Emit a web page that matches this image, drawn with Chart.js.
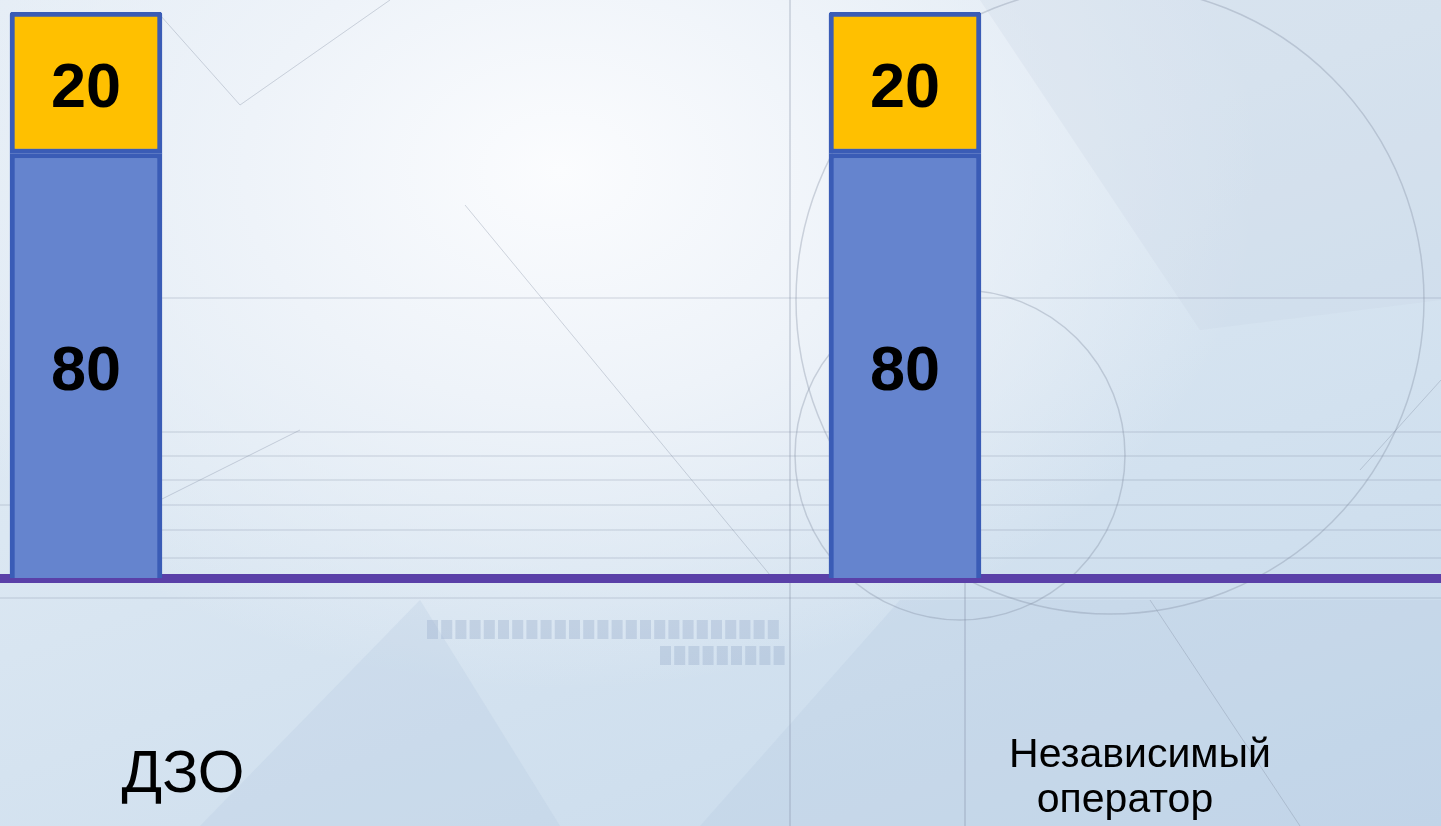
<!DOCTYPE html>
<html>
<head>
<meta charset="utf-8">
<title>ДЗО / Независимый оператор</title>
<script src="https://cdn.jsdelivr.net/npm/chart.js@4.4.1/dist/chart.umd.min.js"></script>
<style>
    html, body {
        margin: 0;
        padding: 0;
        width: 1441px;
        height: 826px;
        overflow: hidden;
    }
    body {
        background:
            radial-gradient(ellipse 700px 520px at 560px 170px, #fbfcfe 0%, #eef3f9 45%, rgba(224,234,244,0) 100%),
            linear-gradient(160deg, #e3ecf5 0%, #dbe7f2 40%, #cfdfee 75%, #c6d9eb 100%);
    }
    #wrap {
        position: absolute;
        left: 0;
        top: 0;
        width: 1441px;
        height: 826px;
    }
</style>
</head>
<body>
<div id="wrap"><canvas id="barChart"></canvas></div>
<script>
/* ===============================
   DATA
=============================== */

const categories = ["ДЗО", "Независимый оператор"];

const categoryIndex = [0, 1];

const bottomValues = [80, 80];

const topValues = [20, 20];

const yTicks = [20, 100];

/* ===============================
   BACKGROUND DRAWING (decoration)
=============================== */

const backgroundPlugin = {
    id: "paperBackground",
    beforeDraw(chart) {
        const ctx = chart.ctx;
        ctx.save();

        // pale shapes
        ctx.fillStyle = "rgba(180,200,225,0.25)";
        ctx.beginPath();
        ctx.moveTo(200, 826); ctx.lineTo(420, 600); ctx.lineTo(560, 826);
        ctx.closePath(); ctx.fill();
        ctx.beginPath();
        ctx.moveTo(700, 826); ctx.lineTo(900, 600); ctx.lineTo(1441, 600); ctx.lineTo(1441, 826);
        ctx.closePath(); ctx.fill();
        ctx.fillStyle = "rgba(200,212,228,0.25)";
        ctx.beginPath();
        ctx.moveTo(980, 0); ctx.lineTo(1441, 0); ctx.lineTo(1441, 300); ctx.lineTo(1200, 330);
        ctx.closePath(); ctx.fill();

        ctx.strokeStyle = "rgba(130,140,160,0.35)";
        ctx.lineWidth = 1.5;

        // circles
        ctx.beginPath();
        ctx.arc(1110, 300, 314, 0, Math.PI * 2);
        ctx.stroke();
        ctx.beginPath();
        ctx.arc(960, 455, 165, 0, Math.PI * 2);
        ctx.stroke();

        // verticals
        ctx.beginPath();
        ctx.moveTo(790, 0); ctx.lineTo(790, 826);
        ctx.moveTo(965, 560); ctx.lineTo(965, 826);
        ctx.stroke();

        // horizontals
        ctx.lineWidth = 1;
        [298, 432, 456, 480, 505, 530, 558, 598].forEach(y => {
            ctx.beginPath();
            ctx.moveTo(160, y); ctx.lineTo(1441, y);
            ctx.stroke();
        });
        ctx.beginPath();
        ctx.moveTo(0, 598); ctx.lineTo(160, 598);
        ctx.moveTo(0, 505); ctx.lineTo(10, 505);
        ctx.stroke();

        // diagonals
        ctx.beginPath();
        ctx.moveTo(465, 205); ctx.lineTo(770, 575);
        ctx.moveTo(160, 15); ctx.lineTo(240, 105);
        ctx.moveTo(240, 105); ctx.lineTo(390, 0);
        ctx.moveTo(160, 500); ctx.lineTo(300, 430);
        ctx.moveTo(1150, 600); ctx.lineTo(1300, 826);
        ctx.moveTo(1360, 470); ctx.lineTo(1441, 380);
        ctx.stroke();

        // dashed block
        ctx.fillStyle = "rgba(150,170,200,0.35)";
        for (let i = 0; i < 25; i++) {
            ctx.fillRect(427 + i * 14.2, 620, 11, 19);
        }
        for (let i = 0; i < 9; i++) {
            ctx.fillRect(660 + i * 14.2, 646, 11, 19);
        }

        ctx.restore();
    }
};

/* ===============================
   VALUE LABELS + CATEGORY TEXT
=============================== */

const labelPlugin = {
    id: "valueLabels",
    afterDatasetsDraw(chart) {
        const ctx = chart.ctx;
        const area = chart.chartArea;
        ctx.save();
        ctx.fillStyle = "#000000";
        ctx.textAlign = "center";
        ctx.textBaseline = "middle";
        ctx.font = "bold 63px Arial, 'Liberation Sans', sans-serif";

        chart.data.datasets.forEach((ds, di) => {
            const meta = chart.getDatasetMeta(di);
            meta.data.forEach((bar, i) => {
                const top = Math.max(bar.y, area.top);
                const base = Math.min(bar.base, area.bottom);
                ctx.fillText(String(ds.data[i].y), bar.x, (top + base) / 2 + 7);
            });
        });

        // category captions
        ctx.textBaseline = "alphabetic";
        ctx.font = "60px Arial, 'Liberation Sans', sans-serif";
        ctx.fillText(categories[0], 183, 792);

        ctx.font = "41px Arial, 'Liberation Sans', sans-serif";
        const words = categories[1].split(" ");
        ctx.fillText(words[0], 1140, 767);
        ctx.fillText(words[1], 1125, 812);

        ctx.restore();
    }
};

/* ===============================
   CHART
=============================== */

const canvas = document.getElementById("barChart");

const barChart = new Chart(canvas, {

    type: "bar",

    data: {
        datasets: [
            {
                label: "80",
                data: categoryIndex.map((x, i) => ({ x: x, y: bottomValues[i] })),
                backgroundColor: "#6584ce",
                borderColor: "#3a5cb6",
                borderWidth: 5,
                borderSkipped: false,
                barThickness: 152
            },
            {
                label: "20",
                data: categoryIndex.map((x, i) => ({ x: x, y: topValues[i] })),
                backgroundColor: "#ffc000",
                borderColor: "#3a5cb6",
                borderWidth: 5,
                borderSkipped: false,
                borderRadius: { topLeft: 3, topRight: 3 },
                barThickness: 152
            }
        ]
    },

    options: {
        responsive: true,
        maintainAspectRatio: false,
        animation: false,
        layout: {
            padding: { top: 12, left: 0, right: 0, bottom: 0 }
        },
        plugins: {
            legend: { display: false },
            tooltip: { enabled: false }
        },
        scales: {
            x: {
                type: "linear",
                stacked: true,
                offset: false,
                min: -0.105,
                max: 1.6545,
                ticks: { display: false },
                grid: { display: false },
                border: { display: true, color: "#5a40a8", width: 9 },
                afterFit: scale => { scale.height = 248; }
            },
            y: {
                stacked: true,
                display: false,
                min: yTicks[0],
                max: yTicks[1]
            }
        }
    },

    plugins: [backgroundPlugin, labelPlugin]

});
</script>
</body>
</html>
